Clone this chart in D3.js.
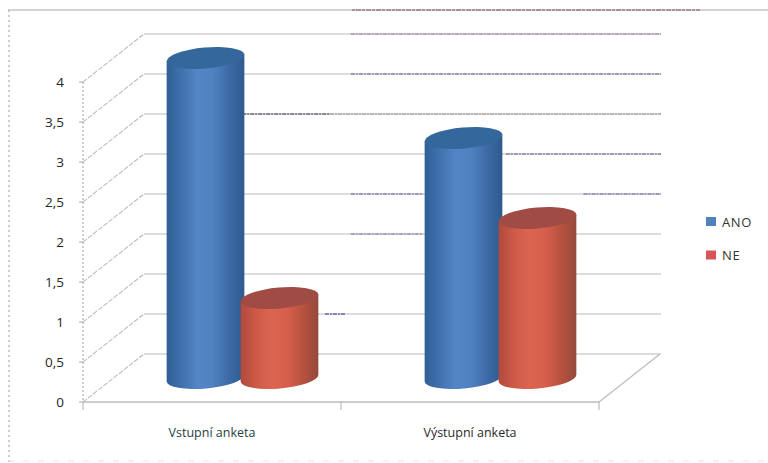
<!DOCTYPE html>
<html>
<head>
<meta charset="utf-8">
<script src="https://cdn.jsdelivr.net/npm/d3@7"></script>
<style>
  html, body { margin: 0; padding: 0; background: #fff; }
  svg { display: block; }
  text { font-family: "Open Sans", "Noto Sans", sans-serif; }
</style>
</head>
<body>
<svg id="chart" width="768" height="463"></svg>
<script>
// Survey answers per questionnaire, drawn as 3D cylinders in a box.
const categories = ["Vstupní anketa", "Výstupní anketa"];
const seriesNames = ["ANO", "NE"];
const anoValues = [4, 3];
const neValues = [1, 2];
const tickValues = [0, 0.5, 1, 1.5, 2, 2.5, 3, 3.5, 4];
const tickLabels = ["0", "0,5", "1", "1,5", "2", "2,5", "3", "3,5", "4"];

// Darker, uneven stretches on the back-wall gridlines: [level, from, to] as wall fractions.
const gridStreaks = [
  [4, 0.40, 1, "#8a6f9e"], [3.5, 0.40, 1, "#5b55a0"], [3, 0.19, 0.36, "#333344"],
  [3, 0.36, 1, "#8d8d95"], [2.5, 0.70, 1, "#5b55a0"], [2, 0.40, 0.54, "#5b55a0"],
  [2, 0.85, 1, "#5b55a0"], [1.5, 0.40, 0.54, "#6a6ab0"], [0.5, 0.35, 0.39, "#2c2c90"]
];

const svg = d3.select("#chart");
const depth = { dx: 61, dy: -48 };

const y = d3.scaleLinear().domain([0, 4]).range([402, 82]);
const x = d3.scaleBand().domain(categories).range([83, 599]);
const seriesOffset = d3.scalePoint().domain(seriesNames).range([-37, 37]);
const wallX = d3.scaleLinear().domain([0, 1]).range([83 + depth.dx, 600 + depth.dx]);

const rows = seriesNames.map((name, s) => ({
  name, values: s === 0 ? anoValues : neValues
}));

// Gradients shading the round sides of the cylinders
const defs = svg.append("defs");
const shades = {
  ANO: { stops: ["#2f5f94", "#4272ad", "#5485c6", "#4f80c0", "#3d6ba6", "#2e5a8e"], top: "#34689c" },
  NE:  { stops: ["#b04a3c", "#cd5a48", "#dc6552", "#d65f4c", "#b8513f", "#94493d"], top: "#a04c44" }
};
seriesNames.forEach(name => {
  const g = defs.append("linearGradient").attr("id", "side-" + name);
  shades[name].stops.forEach((c, i, all) => {
    g.append("stop").attr("offset", i / (all.length - 1)).attr("stop-color", c);
  });
});

// Outer chart frame
const frame = svg.append("g").attr("fill", "none");
frame.append("path").attr("d", "M8,10H768").attr("stroke", "#c4c4c4").attr("stroke-width", 1.4);
frame.append("path").attr("d", "M352,10H700").attr("stroke", "#84506f").attr("stroke-width", 1.2).attr("stroke-dasharray", "3 1 5 1");
frame.append("path").attr("d", "M9,10V463").attr("stroke", "#9a9a9a").attr("stroke-dasharray", "2 3");
frame.append("path").attr("d", "M8,461H768").attr("stroke", "#e2e2e2").attr("stroke-dasharray", "6 9");

// Back-wall gridlines and the slanted lines joining them to the value axis
const grid = svg.append("g").attr("fill", "none");
grid.selectAll(".wall").data(tickValues.slice(1).concat(0)).join("line")
  .attr("x1", wallX(0)).attr("x2", wallX(1))
  .attr("y1", d => y(d) + depth.dy).attr("y2", d => y(d) + depth.dy)
  .attr("stroke", "#bcbcbc").attr("stroke-width", 1.2);
grid.selectAll(".streak").data(gridStreaks).join("line")
  .attr("x1", d => wallX(d[1])).attr("x2", d => wallX(d[2]))
  .attr("y1", d => y(d[0]) + depth.dy).attr("y2", d => y(d[0]) + depth.dy)
  .attr("stroke", d => d[3]).attr("stroke-width", 1).attr("stroke-dasharray", "4 1 2 1");
grid.selectAll(".side").data(tickValues).join("line")
  .attr("x1", x.range()[0]).attr("x2", x.range()[0] + depth.dx)
  .attr("y1", d => y(d)).attr("y2", d => y(d) + depth.dy)
  .attr("stroke", "#bdbdbd").attr("stroke-width", 1.1).attr("stroke-dasharray", "5 1.5");

// Floor edges
const floorColor = "#bbbbbb";
grid.append("line").attr("x1", 83).attr("x2", 599).attr("y1", y(0)).attr("y2", y(0))
  .attr("stroke", floorColor).attr("stroke-width", 1.3);
grid.append("line").attr("x1", 599).attr("x2", 599 + depth.dx).attr("y1", y(0)).attr("y2", y(0) + depth.dy)
  .attr("stroke", floorColor).attr("stroke-width", 1.1);

// Value axis
const valueAxis = svg.append("g");
valueAxis.append("line").attr("x1", 83).attr("x2", 83).attr("y1", y(4)).attr("y2", y(0))
  .attr("stroke", "#a0a0a0").attr("stroke-dasharray", "2 2");
valueAxis.selectAll(".tick").data(tickValues).join("line")
  .attr("x1", 79).attr("x2", 83).attr("y1", d => y(d)).attr("y2", d => y(d))
  .attr("stroke", "#a8a8a8");
valueAxis.selectAll(".label").data(tickValues).join("text")
  .attr("x", 64).attr("y", d => y(d) + 5).attr("text-anchor", "end")
  .attr("font-size", 13.5).attr("fill", "#262626")
  .text((d, i) => tickLabels[i]);

// Category axis
const catAxis = svg.append("g");
catAxis.selectAll(".tick").data([83, x.step() + 83, 2 * x.step() + 83]).join("line")
  .attr("x1", d => d).attr("x2", d => d).attr("y1", y(0)).attr("y2", y(0) + 8)
  .attr("stroke", "#b0b0b0");
catAxis.selectAll(".label").data(categories).join("text")
  .attr("x", d => x(d) + x.bandwidth() / 2).attr("y", 437).attr("text-anchor", "middle")
  .attr("font-size", 12.5).attr("fill", (d, i) => i === 0 ? "#1f3f42" : "#2a2a2a")
  .text(d => d);

// Cylinders: side wall with a rounded base, then the tilted top ellipse
const rx = 39, ry = 10.5, tilt = -5;
const tiltRad = tilt * Math.PI / 180;
const ex = rx * Math.cos(tiltRad), ey = rx * Math.sin(tiltRad);
const baseY = y(0) + depth.dy / 2;
const midShift = depth.dx / 2;

const cylinders = svg.append("g");
rows.forEach(row => {
  row.values.forEach((v, i) => {
    const cx = x(categories[i]) + x.bandwidth() / 2 + midShift + seriesOffset(row.name);
    const topY = baseY - (y(0) - y(v));
    const body = d3.path();
    body.moveTo(cx - ex, topY - ey);
    body.lineTo(cx - ex, baseY - ey);
    const arc = `A${rx},${ry} ${tilt} 0 0 ${cx + ex},${baseY + ey}`;
    cylinders.append("path")
      .attr("d", body.toString() + arc + `L${cx + ex},${topY + ey}Z`)
      .attr("fill", `url(#side-${row.name})`);
    cylinders.append("ellipse")
      .attr("rx", rx).attr("ry", ry)
      .attr("transform", `translate(${cx},${topY}) rotate(${tilt})`)
      .attr("fill", shades[row.name].top);
  });
});

// Legend
const legendColors = { ANO: "#4f81bd", NE: "#d9545a" };
const legend = svg.append("g").selectAll("g").data(seriesNames).join("g")
  .attr("transform", (d, i) => `translate(706,${217 + i * 33.5})`);
legend.append("rect").attr("width", 10).attr("height", 9)
  .attr("fill", d => legendColors[d]);
legend.append("text").attr("x", 16).attr("y", 9.5)
  .attr("font-size", 13).attr("letter-spacing", 0.6).attr("fill", "#333")
  .text(d => d);
</script>
</body>
</html>
